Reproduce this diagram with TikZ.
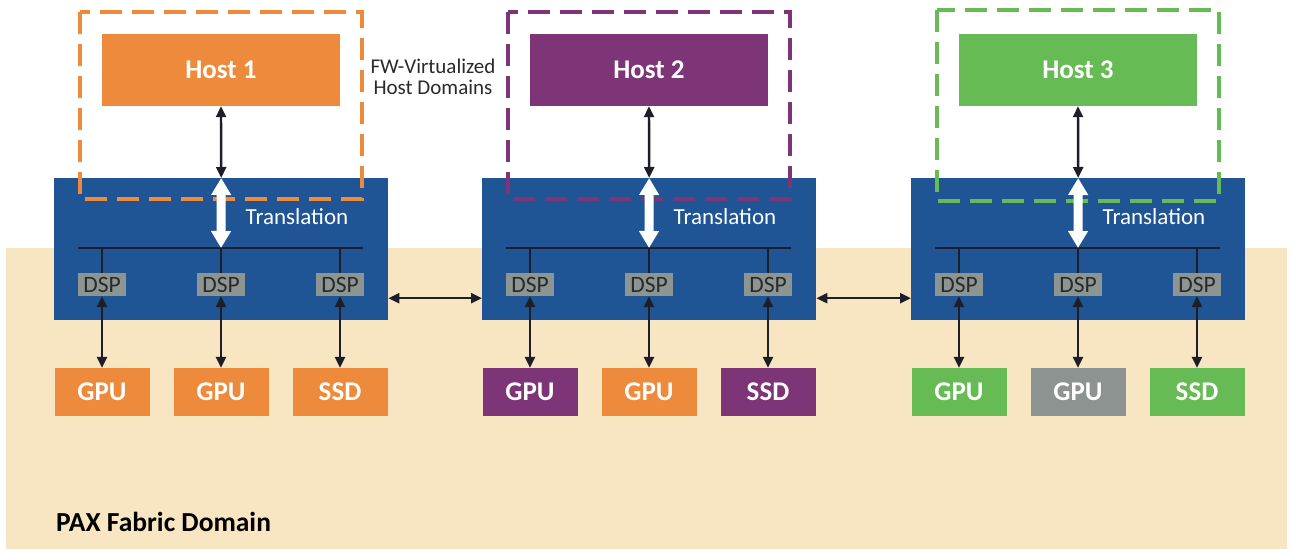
\documentclass[tikz,border=0pt]{standalone}
\usepackage{fontspec}
\setmainfont{Carlito}
\usetikzlibrary{arrows.meta}
\definecolor{paxorange}{HTML}{EE8A3B}
\definecolor{paxpurple}{HTML}{7D3577}
\definecolor{paxgreen}{HTML}{66BB55}
\definecolor{paxblue}{HTML}{1F5594}
\definecolor{paxdsp}{HTML}{8C9592}
\definecolor{paxgray}{HTML}{8D9391}
\definecolor{paxbeige}{HTML}{F8E6C2}
\definecolor{paxline}{HTML}{1E1E28}
\definecolor{paxtext}{HTML}{2A2A2A}

\tikzset{
  switchbox/.style={fill=paxblue, minimum width=334pt, minimum height=142pt, inner sep=0pt, anchor=north west},
  hostbox/.style={fill=#1, text=white, font=\fontsize{27}{30}\selectfont\bfseries,
    minimum width=238pt, minimum height=72pt, inner sep=0pt},
  devbox/.style={fill=#1, text=white, font=\fontsize{27}{30}\selectfont\bfseries,
    minimum width=95pt, minimum height=48pt, inner sep=0pt},
  dspbox/.style={fill=paxdsp, text=paxtext, font=\fontsize{23.5}{25}\selectfont,
    minimum width=48pt, minimum height=23pt, inner sep=0pt},
  domainbox/.style={draw=#1, line width=4pt, dash pattern=on 22pt off 10pt},
  bus/.style={draw=paxline, line width=2pt},
  link/.style={draw=paxline, line width=2.4pt,
    {Triangle[length=11pt,width=10pt]}-{Triangle[length=11pt,width=10pt]}},
  xlate/.style={draw=white, line width=9pt,
    {Triangle[length=17pt,width=19pt]}-{Triangle[length=17pt,width=19pt]}},
  xlatelabel/.style={text=white, font=\fontsize{23}{26}\selectfont, inner sep=0pt},
}

\begin{document}
\begin{tikzpicture}[x=1pt,y=-1pt]
  \fill[white] (0,0) rectangle (1292,549);
  \useasboundingbox (0,0) rectangle (1292,549);

  % fabric domain background
  \fill[paxbeige] (6,248) rectangle (1287,549);

  \foreach \i/\x/\hc/\ca/\cb/\cc/\ta/\tb/\la/\lb in {
      1/54/paxorange/paxorange/paxorange/paxorange/12/199/GPU/GPU,
      2/482/paxpurple/paxpurple/paxorange/paxpurple/12/199/GPU/GPU,
      3/911/paxgreen/paxgreen/paxgray/paxgreen/10/201/GPU/GPU}
  {
    % switch with translation layer
    \node[switchbox] (sw\i) at (\x,178) {};
    \coordinate (bl\i) at (\x+24,248);
    \coordinate (br\i) at (\x+309,248);
    \coordinate (bm\i) at (\x+167,248);
    \draw[bus] (bl\i) -- (br\i);

    % downstream ports
    \node[dspbox] (da\i) at (\x+48,284.5) {DSP};
    \node[dspbox] (db\i) at (\x+167,284.5) {DSP};
    \node[dspbox] (dc\i) at (\x+286,284.5) {DSP};
    \draw[bus] (da\i.north) -- (da\i.north |- bl\i);
    \draw[bus] (db\i.north) -- (db\i.north |- bl\i);
    \draw[bus] (dc\i.north) -- (dc\i.north |- bl\i);

    % endpoint devices
    \node[devbox=\ca] (ga\i) at (\x+48,392) {\la};
    \node[devbox=\cb] (gb\i) at (\x+167,392) {\lb};
    \node[devbox=\cc] (gc\i) at (\x+286,392) {SSD};
    \draw[link] (da\i.south) -- (ga\i.north);
    \draw[link] (db\i.south) -- (gb\i.north);
    \draw[link] (dc\i.south) -- (gc\i.north);

    % host domain
    \draw[domainbox=\hc] (\x+26,\ta) rectangle (\x+308,\tb);
    \node[hostbox=\hc] (h\i) at (\x+167,70) {Host \i};
    \draw[link] (h\i.south) -- (sw\i.north);
    \draw[xlate] (sw\i.north) -- (bm\i);
    \node[xlatelabel] (t\i) at (\x+243,217) {Translation};
  }

  % links between switches
  \draw[link] ([yshift=-49pt]sw1.east) -- ([yshift=-49pt]sw2.west);
  \draw[link] ([yshift=-49pt]sw2.east) -- ([yshift=-49pt]sw3.west);

  % labels
  \node[text=paxtext, font=\fontsize{21}{21}\selectfont, align=center, inner sep=0pt]
    (fw) at (433,77) {FW-Virtualized\\Host Domains};
  \node[text=black, font=\fontsize{27.5}{30}\selectfont\bfseries, anchor=west, inner sep=0pt]
    (pax) at (56,522) {PAX Fabric Domain};
\end{tikzpicture}
\end{document}
